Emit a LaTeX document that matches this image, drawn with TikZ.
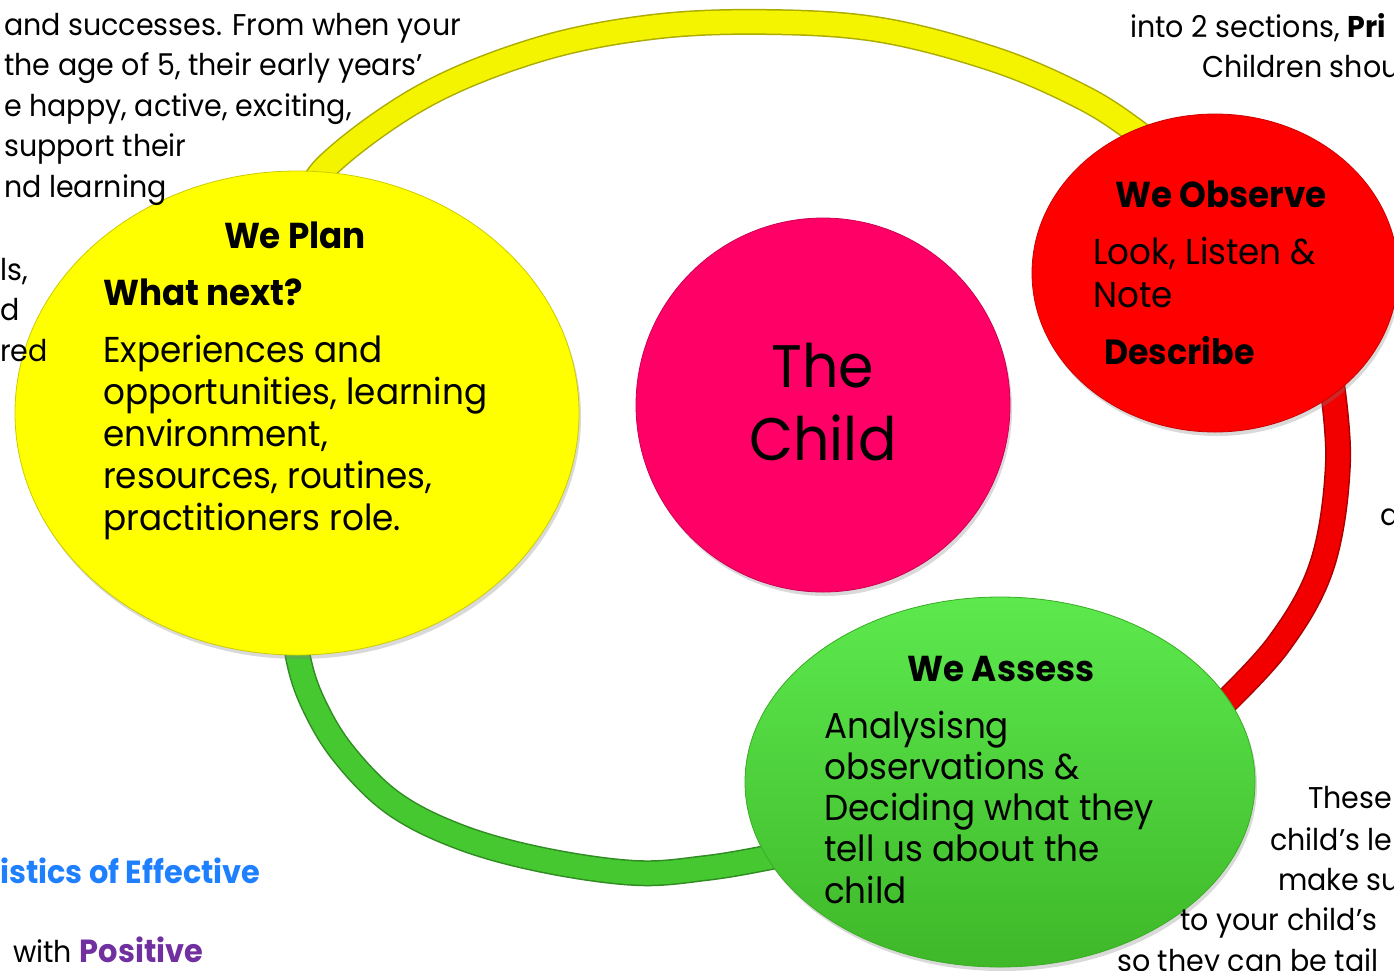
\documentclass[tikz,border=0pt]{standalone}
\usepackage{fontspec}
\setmainfont{Poppins}[FakeStretch=0.95]
\usetikzlibrary{shapes.geometric,shadows}
\definecolor{planyellow}{HTML}{FFFF00}
\definecolor{childpink}{HTML}{FF0066}
\definecolor{observered}{HTML}{FF0000}
\definecolor{assessgreen}{HTML}{4AD830}
\definecolor{ringyellow}{HTML}{F4F400}
\definecolor{ringgreen}{HTML}{45C830}
\definecolor{ringred}{HTML}{F20000}
\definecolor{effblue}{HTML}{1F80FF}
\definecolor{pospurple}{HTML}{7030A0}
\newcommand\lines[1]{\parbox[t]{600pt}{\raggedright #1}}
\newcommand\ringpart[2]{%
  \draw[line width=26pt,#1!70!black] plot[smooth,tension=.6] coordinates {#2};
  \draw[line width=23pt,#1] plot[smooth,tension=.6] coordinates {#2};}
\tikzset{
  disc/.style={ellipse,draw=#1!80!black,line width=.8pt,fill=#1,
    drop shadow={shadow xshift=2pt,shadow yshift=-4pt,opacity=.3}},
  txt/.style={anchor=base west,inner sep=0pt,font=\fontsize{36}{42}\selectfont},
  bgtxt/.style={anchor=base west,inner sep=0pt,font=\fontsize{30}{40.5}\selectfont},
  head/.style={anchor=base,inner sep=0pt,font=\fontsize{36}{42}\selectfont\bfseries},
}
\begin{document}
\begin{tikzpicture}[x=1pt,y=-1pt]
\useasboundingbox (0,0) rectangle (1394,970);
\clip (0,0) rectangle (1394,970);
% the ring
\ringpart{ringyellow}{(305,215) (325,168) (422,97) (537,50) (652,27) (767,22) (881,30) (996,60) (1082,97) (1134,130) (1170,160)}
\ringpart{ringgreen}{(292,600) (298,657) (313,703) (343,753) (393,803) (460,837) (543,860) (636,873) (706,868) (766,858) (810,848)}
\ringpart{ringred}{(1330,370) (1338,462) (1322,565) (1278,645) (1212,715)}
% the four discs
\node[disc=planyellow,minimum width=564,minimum height=484] (plan) at (297,413) {};
\node[disc=childpink,minimum width=374,minimum height=374] (child) at (823,405) {};
\node[disc=observered,minimum width=366,minimum height=318] (observe) at (1215,273) {};
\node[disc=assessgreen,top color=assessgreen!70!green!80!white,bottom color=assessgreen!85!black,
  minimum width=510,minimum height=370] (assess) at (1000,782) {};
% texts on the discs
\node[head] (planhead) at (295,248) {We Plan};
\node[txt,font=\fontsize{36}{42}\selectfont\bfseries] (plannext) at (103,305) {What next?};
\node[txt] (planbody) at (103,362) {\lines{Experiences and\\opportunities, learning\\environment,\\resources, routines,\\practitioners role.}};
\node[anchor=base,inner sep=0pt,font=\fontsize{60}{73}\selectfont] (childtxt) at (823,387) {\parbox[t]{300pt}{\centering The\\Child}};
\node[txt,font=\fontsize{36}{42}\selectfont\bfseries] (obshead) at (1115,207) {We Observe};
\node[txt,font=\fontsize{36}{43}\selectfont] (obsbody) at (1093,264) {\lines{Look, Listen \&\\Note}};
\node[txt,font=\fontsize{35}{42}\selectfont\bfseries] (obsdesc) at (1104,364) {Describe};
\node[head] (asshead) at (1001,681) {We Assess};
\node[txt,font=\fontsize{36}{41.3}\selectfont] (assbody) at (824,738) {\lines{Analysisng\\observations \&\\Deciding what they\\tell us about the\\child}};
% page text round the cycle
\node[bgtxt] (topleft) at (4,35) {\lines{and successes. From when your\\the age of 5, their early years'\\e happy, active, exciting,\\support their\\nd learning}};
\node[bgtxt] (leftmid) at (0,280) {\lines{ls,\\d\\red}};
\node[bgtxt] (topright) at (1130,37) {into 2 sections, \textbf{Pri}};
\node[bgtxt] (topright2) at (1202,77) {Children shou};
\node[bgtxt] (rightmid) at (1380,525) {a};
\node[bgtxt] (botr1) at (1308,808) {These};
\node[bgtxt] (botr2) at (1270,850) {child's le};
\node[bgtxt] (botr3) at (1278,890) {make su};
\node[bgtxt] (botr4) at (1180,930) {to your child's};
\node[bgtxt] (botr5) at (1117,971) {so they can be tail};
\node[bgtxt,text=effblue,font=\fontsize{32}{40}\selectfont\bfseries] (botl1) at (0,883) {istics of Effective};
\node[bgtxt] (botl2) at (13,962) {with \textcolor{pospurple}{\fontsize{32}{40}\selectfont\bfseries Positive}};
\end{tikzpicture}
\end{document}
